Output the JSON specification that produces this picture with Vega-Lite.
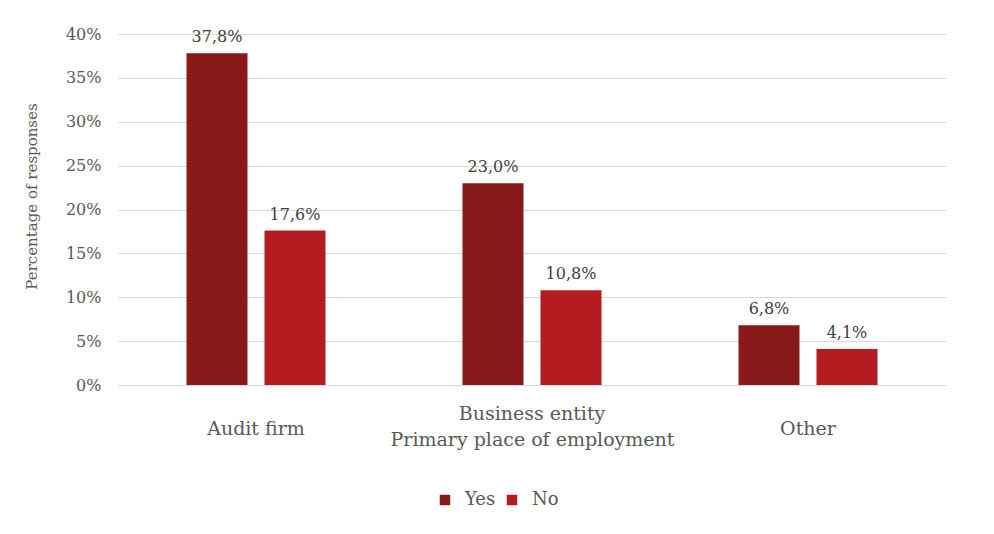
{
  "$schema": "https://vega.github.io/schema/vega-lite/v6.json",
  "width": 828,
  "height": 351,
  "autosize": {"type": "none"},
  "padding": {"left": 118, "top": 34, "right": 48, "bottom": 149},
  "background": "white",
  "config": {
    "locale": {"number": {"decimal": ",", "thousands": ".", "grouping": [3], "currency": ["", " €"]}},
    "font": "DejaVu Serif",
    "view": {"stroke": null}
  },
  "data": {
    "values": [
      {"employment": "Audit firm", "answer": "Yes", "share": 0.378},
      {"employment": "Audit firm", "answer": "No", "share": 0.176},
      {"employment": "Business entity", "answer": "Yes", "share": 0.230},
      {"employment": "Business entity", "answer": "No", "share": 0.108},
      {"employment": "Other", "answer": "Yes", "share": 0.068},
      {"employment": "Other", "answer": "No", "share": 0.041}
    ]
  },
  "encoding": {
    "x": {
      "field": "employment",
      "type": "nominal",
      "sort": ["Audit firm", "Business entity", "Other"],
      "scale": {"paddingInner": 0, "paddingOuter": 0},
      "axis": {
        "title": "Primary place of employment",
        "labelAngle": 0,
        "labelFont": "DejaVu Serif",
        "labelFontSize": 19,
        "labelColor": "#595959",
        "labelBaseline": "top",
        "labelLineHeight": 15,
        "labelPadding": 19,
        "labelExpr": "datum.value == 'Business entity' ? datum.value : ['\u00a0', datum.value]",
        "ticks": false,
        "domain": false,
        "titleFont": "DejaVu Serif",
        "titleFontSize": 19,
        "titleFontWeight": "normal",
        "titleColor": "#595959",
        "titlePadding": -8
      }
    },
    "xOffset": {
      "field": "answer",
      "type": "nominal",
      "sort": ["Yes", "No"],
      "scale": {"paddingInner": 0.218, "paddingOuter": 0.878}
    },
    "y": {
      "field": "share",
      "type": "quantitative",
      "scale": {"domain": [0, 0.4]},
      "axis": {
        "title": "Percentage of responses",
        "format": ".0%",
        "values": [0, 0.05, 0.1, 0.15, 0.2, 0.25, 0.3, 0.35, 0.4],
        "labelFont": "DejaVu Serif",
        "labelFontSize": 16,
        "labelColor": "#595959",
        "labelPadding": 17,
        "labelOverlap": false,
        "ticks": false,
        "domain": false,
        "gridColor": "#D9D9D9",
        "gridWidth": 1,
        "titleFont": "DejaVu Serif",
        "titleFontSize": 15,
        "titleFontWeight": "normal",
        "titleColor": "#595959",
        "titlePadding": 26,
        "titleY": 162
      }
    }
  },
  "layer": [
    {
      "mark": {"type": "bar"},
      "encoding": {
        "color": {
          "field": "answer",
          "type": "nominal",
          "sort": ["Yes", "No"],
          "scale": {"domain": ["Yes", "No"], "range": ["#881A19", "#B51C22"]},
          "legend": {
            "title": null,
            "orient": "none",
            "legendX": 318,
            "legendY": 457,
            "padding": 0,
            "direction": "horizontal",
            "symbolType": "square",
            "symbolSize": 110,
            "symbolStrokeWidth": 0,
            "labelFont": "DejaVu Serif",
            "labelFontSize": 18,
            "labelColor": "#595959",
            "labelOffset": 11,
            "columnPadding": 7
          }
        }
      }
    },
    {
      "mark": {"type": "text", "baseline": "bottom", "dy": -8, "font": "DejaVu Serif", "fontSize": 16, "color": "#404040"},
      "encoding": {
        "text": {"field": "share", "type": "quantitative", "format": ".1%"}
      }
    }
  ]
}
